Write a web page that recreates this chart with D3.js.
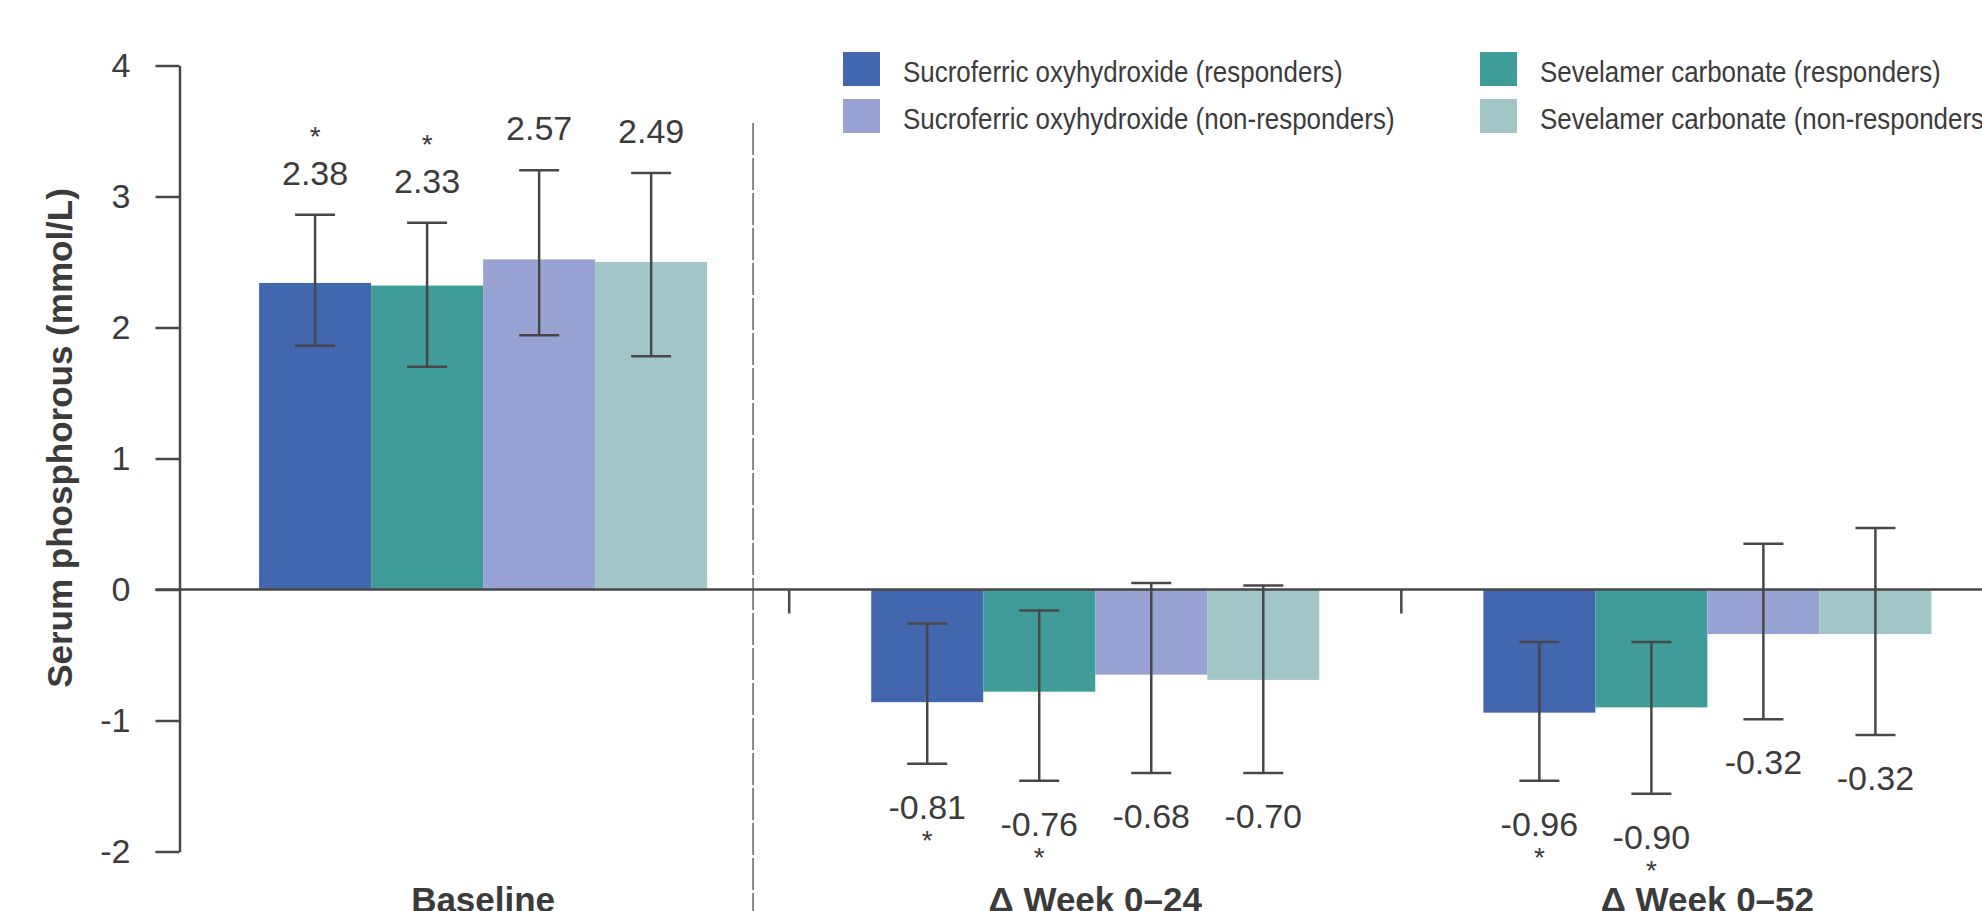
<!DOCTYPE html>
<html>
<head>
<meta charset="utf-8">
<script src="https://cdn.jsdelivr.net/npm/d3@7"></script>
<style>
  body { margin: 0; background: #fff; }
  svg { display: block; font-family: "Liberation Sans", Arial, sans-serif; }
</style>
</head>
<body>
<svg id="chart"></svg>
<script>
// data
groups = ["Baseline", "\u0394 Week 0\u201324", "\u0394 Week 0\u201352"];
series = ["Sucroferric oxyhydroxide (responders)", "Sevelamer carbonate (responders)",
          "Sucroferric oxyhydroxide (non-responders)", "Sevelamer carbonate (non-responders)"];
meanValues = [[2.34, 2.32, 2.52, 2.50], [-0.86, -0.78, -0.65, -0.69], [-0.94, -0.90, -0.34, -0.34]];
errLow = [[1.86, 1.70, 1.94, 1.78], [-1.33, -1.46, -1.40, -1.40], [-1.46, -1.56, -0.99, -1.11]];
errHigh = [[2.86, 2.80, 3.20, 3.18], [-0.26, -0.16, 0.05, 0.03], [-0.40, -0.40, 0.35, 0.47]];
valueLabels = [["2.38", "2.33", "2.57", "2.49"], ["-0.81", "-0.76", "-0.68", "-0.70"], ["-0.96", "-0.90", "-0.32", "-0.32"]];
significant = [[1, 1, 0, 0], [1, 1, 0, 0], [1, 1, 0, 0]];
yTicks = [-2, -1, 0, 1, 2, 3, 4];
yTitle = "Serum phosphorous (mmol/L)";

colors = ["#4367ae", "#409c99", "#98a3d3", "#a2c6c6"];
WIDTH = 1982
HEIGHT = 911
AXIS_X = 179.5
TEXT = "#3b3b3b"
LINE = "#474747"

var svg = d3.select("#chart").attr("width", WIDTH).attr("height", HEIGHT);

var y = d3.scaleLinear().domain([-2, 4]).range([851.5, 65.5]);
var x0 = d3.scaleBand().domain(groups).range([AXIS_X, 2011]).paddingInner(0.268).paddingOuter(0.13);
var x1 = d3.scaleBand().domain(series).range([0, x0.bandwidth()]);

var rows = [];
groups.forEach(function (g, gi) {
    series.forEach(function (s, si) {
        rows.push({
            group: g, series: s, si: si,
            value: meanValues[gi][si], lo: errLow[gi][si], hi: errHigh[gi][si],
            label: valueLabels[gi][si], star: significant[gi][si]
        });
    });
});
function cx(d) { return x0(d.group) + x1(d.series) + x1.bandwidth() / 2; }

// bars
svg.append("g").selectAll("rect")
    .data(rows)
    .enter().append("rect")
    .attr("x", function (d) { return x0(d.group) + x1(d.series); })
    .attr("width", x1.bandwidth())
    .attr("y", function (d) { return y(Math.max(0, d.value)); })
    .attr("height", function (d) { return Math.abs(y(d.value) - y(0)); })
    .attr("fill", function (d) { return colors[d.si]; });

// divider between baseline and changes
var dividerX = x0(groups[1]) - x0.step() * x0.paddingInner() * 0.72;
svg.append("line")
    .attr("x1", dividerX).attr("x2", dividerX)
    .attr("y1", 123).attr("y2", HEIGHT)
    .attr("stroke", "#6e6e6e").attr("stroke-width", 1.6)
    .attr("stroke-dasharray", "32,3");

// y axis
var yAxis = svg.append("g")
    .attr("transform", "translate(" + AXIS_X + ",0)")
    .call(d3.axisLeft(y).tickValues(yTicks).tickSize(24).tickSizeOuter(0).tickPadding(25)
        .tickFormat(function (d) { return String(d); }));
yAxis.select(".domain").attr("stroke", LINE).attr("stroke-width", 2.5);
yAxis.selectAll(".tick line").attr("stroke", LINE).attr("stroke-width", 2.5);
yAxis.selectAll(".tick text").attr("fill", TEXT).attr("font-size", 34)
    .attr("font-family", "'Liberation Sans', Arial, sans-serif");

// zero line
svg.append("line")
    .attr("x1", AXIS_X - 24).attr("x2", WIDTH)
    .attr("y1", y(0)).attr("y2", y(0))
    .attr("stroke", LINE).attr("stroke-width", 2.5);

// group separator ticks
svg.append("g").selectAll("line")
    .data(groups.slice(1))
    .enter().append("line")
    .attr("x1", function (g) { return x0(g) - x0.step() * x0.paddingInner() / 2; })
    .attr("x2", function (g) { return x0(g) - x0.step() * x0.paddingInner() / 2; })
    .attr("y1", y(0)).attr("y2", y(0) + 24)
    .attr("stroke", LINE).attr("stroke-width", 2.5);

// error bars
var eb = svg.append("g").attr("stroke", LINE).attr("stroke-width", 2.5);
eb.selectAll(".stem").data(rows).enter().append("line")
    .attr("x1", cx).attr("x2", cx)
    .attr("y1", function (d) { return y(d.lo); })
    .attr("y2", function (d) { return y(d.hi); });
eb.selectAll(".capHi").data(rows).enter().append("line")
    .attr("x1", function (d) { return cx(d) - 20; })
    .attr("x2", function (d) { return cx(d) + 20; })
    .attr("y1", function (d) { return y(d.hi); })
    .attr("y2", function (d) { return y(d.hi); });
eb.selectAll(".capLo").data(rows).enter().append("line")
    .attr("x1", function (d) { return cx(d) - 20; })
    .attr("x2", function (d) { return cx(d) + 20; })
    .attr("y1", function (d) { return y(d.lo); })
    .attr("y2", function (d) { return y(d.lo); });

// value labels, above for positive bars, below for negative
function labelY(d) { return d.value >= 0 ? y(d.hi) - 30 : y(d.lo) + 55; }
svg.append("g").selectAll("text")
    .data(rows)
    .enter().append("text")
    .attr("x", cx)
    .attr("y", labelY)
    .attr("text-anchor", "middle")
    .attr("font-size", 34)
    .attr("fill", TEXT)
    .text(function (d) { return d.label; });

svg.append("g").selectAll("text")
    .data(rows.filter(function (d) { return d.star; }))
    .enter().append("text")
    .attr("x", cx)
    .attr("y", function (d) { return d.value >= 0 ? labelY(d) - 39 : labelY(d) + 31; })
    .attr("text-anchor", "middle")
    .attr("font-size", 28)
    .attr("fill", TEXT)
    .text("*");

// category labels
svg.append("g").selectAll("text")
    .data(groups)
    .enter().append("text")
    .attr("x", function (g) { return x0(g) + x0.bandwidth() / 2; })
    .attr("y", 912)
    .attr("text-anchor", "middle")
    .attr("font-size", 35)
    .attr("font-weight", "bold")
    .attr("fill", TEXT)
    .text(function (g) { return g; });

// y title
svg.append("text")
    .attr("transform", "translate(72," + 438 + ") rotate(-90)")
    .attr("text-anchor", "middle")
    .attr("font-size", 35)
    .attr("font-weight", "bold")
    .attr("fill", TEXT)
    .text(yTitle);

// legend: two columns
var legendCols = [843, 1480];
var legend = svg.append("g").selectAll("g")
    .data(series)
    .enter().append("g")
    .attr("transform", function (s, i) {
        return "translate(" + legendCols[i % 2] + "," + (52 + Math.floor(i / 2) * 47) + ")";
    });
legend.append("rect")
    .attr("width", 37).attr("height", 34)
    .attr("fill", function (s, i) { return colors[i]; });
legend.append("text")
    .attr("transform", "translate(60,30) scale(0.865,1)")
    .attr("font-size", 30)
    .attr("fill", TEXT)
    .text(function (s) { return s; });
</script>
</body>
</html>
